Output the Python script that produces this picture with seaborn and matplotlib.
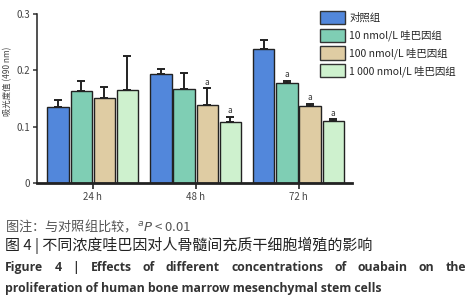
import pandas as pd
import matplotlib
matplotlib.use('Agg')
import matplotlib.pyplot as plt
import seaborn as sns

times = ['24 h', '48 h', '72 h']
groups = ['对照组', '10 nmol/L 哇巴因组', '100 nmol/L 哇巴因组', '1 000 nmol/L 哇巴因组']
colors = ['#3b82f2', '#72dbb9', '#e9cf99', '#c8f7c8']

mean_ctrl = [0.135, 0.194, 0.238]
mean_10 = [0.164, 0.167, 0.178]
mean_100 = [0.151, 0.138, 0.137]
mean_1000 = [0.165, 0.108, 0.110]

sd_ctrl = [0.013, 0.009, 0.016]
sd_10 = [0.018, 0.029, 0.004]
sd_100 = [0.020, 0.030, 0.003]
sd_1000 = [0.061, 0.009, 0.003]

# significance marks vs control (P < 0.01)
sig_ctrl = [False, False, False]
sig_10 = [False, False, True]
sig_100 = [False, True, True]
sig_1000 = [False, True, True]

means = [mean_ctrl, mean_10, mean_100, mean_1000]
sds = [sd_ctrl, sd_10, sd_100, sd_1000]
sigs = [sig_ctrl, sig_10, sig_100, sig_1000]

rows = []
for g, m in zip(groups, means):
    for t, v in zip(times, m):
        rows.append({'time': t, 'group': g, 'od': v})
df = pd.DataFrame(rows)

sns.set_style('ticks')
plt.rcParams['font.family'] = ['Noto Sans CJK SC', 'DejaVu Sans']

fig = plt.figure(figsize=(4.77, 3.0), dpi=100)
ax = fig.add_axes([0.078, 0.391, 0.66, 0.561])

sns.barplot(data=df, x='time', y='od', hue='group', palette=colors,
            width=0.9, gap=0.08, edgecolor='#222222', linewidth=1.0,
            errorbar=None, ax=ax, legend=True)

for cont, sd, sg in zip(ax.containers, sds, sigs):
    for bar, e, s in zip(cont, sd, sg):
        xc = bar.get_x() + bar.get_width() / 2
        h = bar.get_height()
        ax.errorbar(xc, h, yerr=[[0], [e]], fmt='none', ecolor='#222222',
                    elinewidth=1.4, capsize=3, capthick=1.4)
        if s:
            ax.text(xc, h + e + 0.003, 'a', ha='center', va='bottom',
                    fontsize=6, color='#333333')

ax.set_ylim(0, 0.3)
ax.set_xlim(-0.54, 2.52)
ax.set_yticks([0, 0.1, 0.2, 0.3])
ax.set_yticklabels(['0', '0.1', '0.2', '0.3'])
ax.set_xlabel('')
ax.set_ylabel('吸光度值 (490 nm)', fontsize=6.0, color='#444444')
ax.yaxis.set_label_coords(-0.078, 0.6)
ax.tick_params(axis='y', labelsize=7, colors='#444444', length=3, width=1.2, pad=2)
ax.tick_params(axis='x', labelsize=7, colors='#444444', length=4, width=1.4, pad=3)
sns.despine(ax=ax)
ax.spines['left'].set_linewidth(1.1)
ax.spines['bottom'].set_linewidth(2.0)
for sp in ['left', 'bottom']:
    ax.spines[sp].set_color('#222222')

handles, labels = ax.get_legend_handles_labels()
ax.legend(handles, labels, loc='upper left', bbox_to_anchor=(0.662, 0.978),
          bbox_transform=fig.transFigure, frameon=False, fontsize=7.5,
          handlelength=2.4, handleheight=1.6, handletextpad=0.4,
          labelspacing=0.42, borderaxespad=0)
for p in ax.get_legend().get_patches():
    p.set_edgecolor('#333333')
    p.set_linewidth(1.0)

# captions
fig.text(0.01, 1 - 226 / 300, '图注：与对照组比较，$^{a}$$\\it{P}$ < 0.01', fontsize=9.5,
         color='#555555', va='center')
fig.text(0.01, 1 - 245 / 300, '图 4 | 不同浓度哇巴因对人骨髓间充质干细胞增殖的影响',
         fontsize=10.8, color='#222222', va='center')

words = ['Figure', '4', '|', 'Effects', 'of', 'different', 'concentrations', 'of',
         'ouabain', 'on', 'the']
fig.canvas.draw()
r = fig.canvas.get_renderer()
txts = []
for w in words:
    t = fig.text(0, 1 - 271 / 300, w, fontsize=8.8, fontweight='bold',
                 color='#333333', va='baseline', family=['Open Sans', 'DejaVu Sans'])
    txts.append(t)
widths = [t.get_window_extent(r).width for t in txts]
x0, x1 = 5, 466
gap = (x1 - x0 - sum(widths)) / (len(words) - 1)
x = x0
for t, w in zip(txts, widths):
    t.set_x(x / 477)
    x += w + gap

fig.text(5 / 477, 1 - 292 / 300,
         'proliferation of human bone marrow mesenchymal stem cells',
         fontsize=8.8, fontweight='bold', color='#333333', va='baseline',
         family=['Open Sans', 'DejaVu Sans'])

fig.savefig('out.png', dpi=100)
